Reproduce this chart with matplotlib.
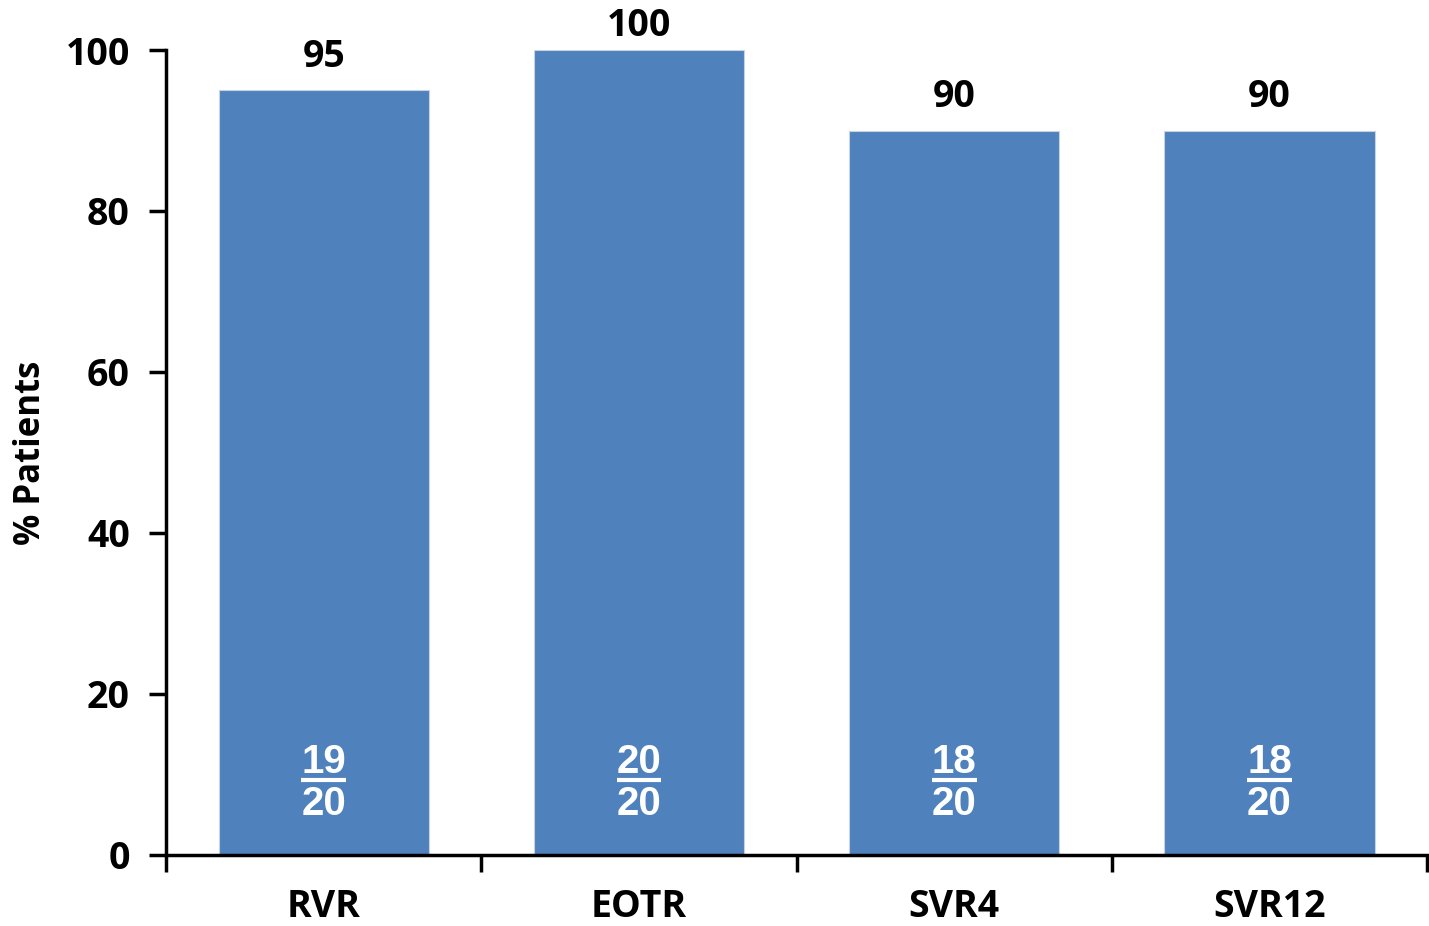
import matplotlib

matplotlib.use("Agg")
import matplotlib.pyplot as plt

plt.rcParams["font.family"] = ["Open Sans", "DejaVu Sans"]
plt.rcParams["font.weight"] = "bold"

categories = ["RVR", "EOTR", "SVR4", "SVR12"]
pct = [95, 100, 90, 90]
responders = [19, 20, 18, 18]
totals = [20, 20, 20, 20]

BLUE = "#4F81BD"

fig = plt.figure(figsize=(14.29, 9.26), dpi=100)
ax = fig.add_axes([0.1162, 0.0767, 0.8824, 0.8693])

x = range(len(categories))
ax.bar(x, pct, width=0.667, color=BLUE, edgecolor="#c8d3e2", linewidth=0.8, zorder=2)

frac_font = dict(family=["Liberation Sans", "DejaVu Sans"], fontsize=29,
                 fontweight="bold", color="white", ha="center", va="center")
for i, v in enumerate(pct):
    # keep the label of a full-height bar inside the figure
    ax.text(i, min(v + 4.1, 103.0), f"{v}", ha="center", va="center",
            fontsize=27, fontweight="bold", clip_on=False)
    # n/N as a stacked fraction inside the bar
    ax.text(i, 11.6, f"{responders[i]}", **frac_font)
    ax.text(i, 6.3, f"{totals[i]}", **frac_font)
    ax.plot([i - 0.071, i + 0.071], [9.3, 9.3], color="white", lw=3, solid_capstyle="butt")

ax.set_xlim(-0.5, len(categories) - 0.5)
ax.set_ylim(0, 100)
ax.set_yticks(range(0, 101, 20))
ax.set_xticks([i + 0.5 for i in range(-1, len(categories))])
ax.set_xticklabels([])
ax.set_xticks(list(x), minor=True)
ax.set_xticklabels(categories, minor=True)
ax.tick_params(axis="x", which="minor", length=0, pad=24, labelsize=27)
ax.tick_params(axis="x", which="major", length=12, width=2.5, direction="out")
ax.tick_params(axis="y", length=12, width=2.5, direction="out", labelsize=27, pad=14)

for lbl in ax.get_xticklabels(minor=True) + ax.get_yticklabels():
    lbl.set_fontweight("bold")

ax.spines["top"].set_visible(False)
ax.spines["right"].set_visible(False)
ax.spines["left"].set_linewidth(2.5)
ax.spines["bottom"].set_linewidth(2.5)

ax.set_ylabel("% Patients", fontsize=25, fontweight="bold", labelpad=12)

fig.savefig("out.png", dpi=100)
